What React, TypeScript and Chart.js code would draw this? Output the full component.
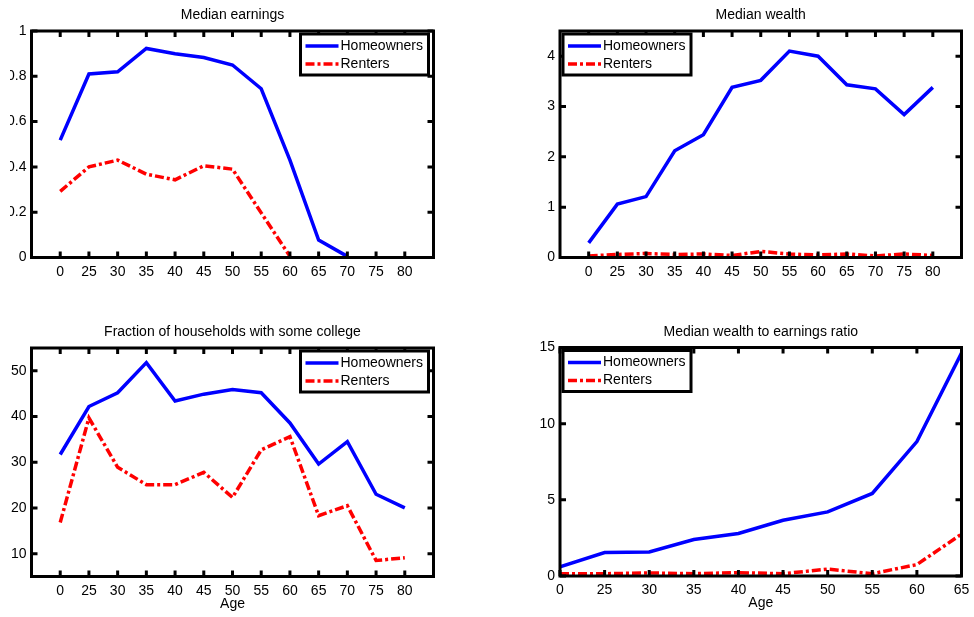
import React, { useEffect, useRef } from 'react';
import { Chart, registerables } from 'chart.js';

Chart.register(...registerables);

const FONT_FAMILY = "'Liberation Sans', Arial, sans-serif";

const ageLabels = ['0', '25', '30', '35', '40', '45', '50', '55', '60', '65', '70', '75', '80'];
const ratioAgeLabels = ['0', '25', '30', '35', '40', '45', '50', '55', '60', '65'];

const earnOwners = [0.518, 0.81, 0.82, 0.923, 0.9, 0.883, 0.85, 0.745, 0.43, 0.077, 0.005, null, null];
const earnRenters = [0.292, 0.4, 0.43, 0.368, 0.343, 0.405, 0.39, 0.197, 0.005, null, null, null, null];
const wealthOwners = [0.29, 1.06, 1.21, 2.12, 2.44, 3.38, 3.52, 4.1, 4.0, 3.43, 3.35, 2.84, 3.38];
const wealthRenters = [0.03, 0.06, 0.08, 0.06, 0.07, 0.04, 0.12, 0.07, 0.05, 0.07, 0.03, 0.07, 0.04];
const collegeOwners = [31.7, 42.2, 45.2, 51.8, 43.4, 44.9, 45.9, 45.2, 38.6, 29.6, 34.5, 23.0, 20.0];
const collegeRenters = [16.8, 39.7, 28.9, 25.1, 25.1, 27.8, 22.3, 32.7, 35.6, 18.3, 20.5, 8.5, 9.1];
const ratioOwners = [0.6, 1.54, 1.58, 2.39, 2.79, 3.66, 4.21, 5.42, 8.82, 14.63];
const ratioRenters = [0.15, 0.15, 0.2, 0.15, 0.22, 0.15, 0.45, 0.15, 0.75, 2.75];

const earnYTicks = [0, 0.2, 0.4, 0.6, 0.8, 1];
const wealthYTicks = [0, 1, 2, 3, 4];
const collegeYTicks = [10, 20, 30, 40, 50];
const ratioYTicks = [0, 5, 10, 15];

const seriesNames = ['Homeowners', 'Renters'];
const BLUE = '#0000ff';
const RED = '#ff0000';
const RED_DASH = [9, 3, 3, 3];
const LINE_W = 3.5;

type PanelCfg = {
  cx: number; cy: number; cw: number; ch: number;
  L: number; T: number; R: number; B: number;
  title: string; xTitle?: string;
  labels: string[];
  owners: (number | null)[];
  renters: (number | null)[];
  xmin: number; xmax: number;
  ymin: number; ymax: number; yticks: number[];
  legendSide: 'left' | 'right';
};

const panels: PanelCfg[] = [
  {
    cx: 10, cy: 0, cw: 430, ch: 300, L: 31.5, T: 31, R: 433.5, B: 257.5,
    title: 'Median earnings', labels: ageLabels, owners: earnOwners, renters: earnRenters,
    xmin: 0, xmax: 14, ymin: 0, ymax: 1, yticks: earnYTicks, legendSide: 'right',
  },
  {
    cx: 500, cy: 0, cw: 474, ch: 300, L: 560, T: 31, R: 961.5, B: 257.5,
    title: 'Median wealth', labels: ageLabels, owners: wealthOwners, renters: wealthRenters,
    xmin: 0, xmax: 14, ymin: 0, ymax: 4.5, yticks: wealthYTicks, legendSide: 'left',
  },
  {
    cx: 0, cy: 310, cw: 440, ch: 307, L: 31.5, T: 348, R: 433.5, B: 576.5,
    title: 'Fraction of households with some college', xTitle: 'Age', labels: ageLabels,
    owners: collegeOwners, renters: collegeRenters,
    xmin: 0, xmax: 14, ymin: 5, ymax: 55, yticks: collegeYTicks, legendSide: 'right',
  },
  {
    cx: 500, cy: 310, cw: 474, ch: 307, L: 560, T: 347.5, R: 961.5, B: 576,
    title: 'Median wealth to earnings ratio', xTitle: 'Age', labels: ratioAgeLabels,
    owners: ratioOwners, renters: ratioRenters,
    xmin: 1, xmax: 10, ymin: 0, ymax: 15, yticks: ratioYTicks, legendSide: 'left',
  },
];

function fmtY(v: number): string {
  return String(Math.round(v * 10) / 10);
}

function Panel({ cfg }: { cfg: PanelCfg }) {
  const ref = useRef<HTMLCanvasElement | null>(null);
  useEffect(() => {
    const canvas = ref.current;
    if (!canvas) return;
    const xVals = cfg.labels.map((_, i) => i + 1);
    const font = { family: FONT_FAMILY, size: 14 };

    const decor = {
      id: 'decor',
      afterDatasetsDraw(chart: any) {
        const { ctx, chartArea: a } = chart;
        const xs = chart.scales.x;
        const ys = chart.scales.y;
        ctx.save();
        ctx.strokeStyle = '#000';
        ctx.lineWidth = 3;
        ctx.lineCap = 'butt';
        ctx.setLineDash([]);
        const tl = 6;
        ctx.beginPath();
        xVals.forEach((v) => {
          const px = xs.getPixelForValue(v);
          ctx.moveTo(px, a.bottom);
          ctx.lineTo(px, a.bottom - tl);
          ctx.moveTo(px, a.top);
          ctx.lineTo(px, a.top + tl);
        });
        cfg.yticks.forEach((v) => {
          const py = ys.getPixelForValue(v);
          ctx.moveTo(a.left, py);
          ctx.lineTo(a.left + tl, py);
          ctx.moveTo(a.right, py);
          ctx.lineTo(a.right - tl, py);
        });
        ctx.stroke();
        ctx.strokeRect(a.left, a.top, a.right - a.left, a.bottom - a.top);

        // title
        ctx.fillStyle = '#000';
        ctx.font = `14px ${FONT_FAMILY}`;
        ctx.textAlign = 'center';
        ctx.textBaseline = 'middle';
        const cxm = (a.left + a.right) / 2;
        ctx.fillText(cfg.title, cxm, a.top - 15.5);
        if (cfg.xTitle) ctx.fillText(cfg.xTitle, cxm, a.bottom + 27.5);

        // legend
        const bw = 128;
        const bh = 41;
        const bx = cfg.legendSide === 'right' ? a.right - 5 - bw : a.left + 3;
        const by = a.top + 3;
        ctx.fillStyle = '#fff';
        ctx.fillRect(bx, by, bw, bh);
        ctx.lineWidth = 3;
        ctx.strokeStyle = '#000';
        ctx.strokeRect(bx, by, bw, bh);
        const rows = [
          { name: seriesNames[0], color: BLUE, dash: [] as number[], y: by + 12 },
          { name: seriesNames[1], color: RED, dash: RED_DASH, y: by + 30 },
        ];
        rows.forEach((r) => {
          ctx.beginPath();
          ctx.strokeStyle = r.color;
          ctx.lineWidth = LINE_W;
          ctx.setLineDash(r.dash);
          ctx.moveTo(bx + 5, r.y);
          ctx.lineTo(bx + 38, r.y);
          ctx.stroke();
          ctx.setLineDash([]);
          ctx.fillStyle = '#000';
          ctx.textAlign = 'left';
          ctx.textBaseline = 'middle';
          ctx.fillText(r.name, bx + 40, r.y);
        });
        ctx.restore();
      },
    };

    const chart = new Chart(canvas, {
      type: 'line',
      data: {
        datasets: [
          {
            label: seriesNames[0],
            data: cfg.owners.map((v, i) => ({ x: i + 1, y: v })) as any,
            borderColor: BLUE,
            borderWidth: LINE_W,
            pointRadius: 0,
            tension: 0,
            spanGaps: false,
            fill: false,
          },
          {
            label: seriesNames[1],
            data: cfg.renters.map((v, i) => ({ x: i + 1, y: v })) as any,
            borderColor: RED,
            borderWidth: LINE_W,
            borderDash: RED_DASH,
            pointRadius: 0,
            tension: 0,
            spanGaps: false,
            fill: false,
          },
        ],
      },
      options: {
        responsive: false,
        animation: false,
        devicePixelRatio: 1,
        layout: {
          padding: { left: 0, top: cfg.T - cfg.cy, right: cfg.cx + cfg.cw - cfg.R, bottom: 0 },
        },
        plugins: {
          legend: { display: false },
          title: { display: false },
          tooltip: { enabled: false },
        },
        scales: {
          x: {
            type: 'linear',
            min: cfg.xmin,
            max: cfg.xmax,
            grid: { display: false, drawTicks: false },
            border: { display: false },
            afterBuildTicks: (s: any) => {
              s.ticks = xVals.map((v) => ({ value: v }));
            },
            afterFit: (s: any) => {
              s.height = cfg.cy + cfg.ch - cfg.B;
              s.paddingLeft = 0;
              s.paddingRight = 0;
            },
            ticks: {
              autoSkip: false,
              maxRotation: 0,
              minRotation: 0,
              padding: 6,
              color: '#000',
              font,
              callback: (v: any) => cfg.labels[Math.round(Number(v)) - 1] ?? '',
            },
          },
          y: {
            type: 'linear',
            min: cfg.ymin,
            max: cfg.ymax,
            grid: { display: false, drawTicks: false },
            border: { display: false },
            afterBuildTicks: (s: any) => {
              s.ticks = cfg.yticks.map((v) => ({ value: v }));
            },
            afterFit: (s: any) => {
              s.width = cfg.L - cfg.cx;
              s.paddingTop = 0;
              s.paddingBottom = 0;
            },
            ticks: {
              padding: 5,
              color: '#000',
              font,
              callback: (v: any) => fmtY(Number(v)),
            },
          },
        },
      },
      plugins: [decor],
    });
    return () => chart.destroy();
  }, [cfg]);

  return (
    <canvas
      ref={ref}
      width={cfg.cw}
      height={cfg.ch}
      style={{ position: 'absolute', left: cfg.cx, top: cfg.cy, width: cfg.cw, height: cfg.ch }}
    />
  );
}

export default function App() {
  return (
    <div
      style={{
        position: 'absolute',
        left: 0,
        top: 0,
        width: 974,
        height: 617,
        background: '#fff',
        overflow: 'hidden',
      }}
    >
      {panels.map((p, i) => (
        <Panel key={i} cfg={p} />
      ))}
    </div>
  );
}
